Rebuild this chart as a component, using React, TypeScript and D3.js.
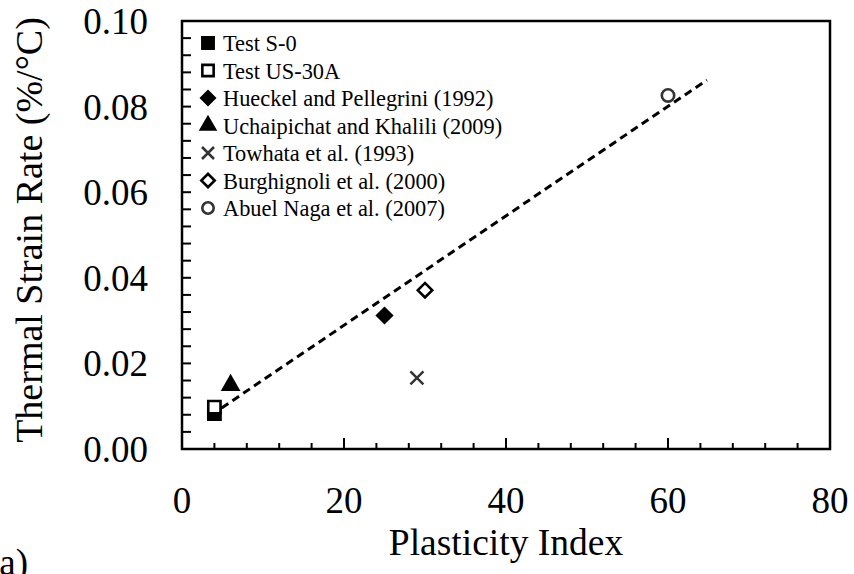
import React from "react";
import * as d3 from "d3";

const seriesNames = [
  "Test S-0",
  "Test US-30A",
  "Hueckel and Pellegrini (1992)",
  "Uchaipichat and Khalili (2009)",
  "Towhata et al. (1993)",
  "Burghignoli et al. (2000)",
  "Abuel Naga et al. (2007)",
];
const seriesMarkers = ["squareFilled", "squareOpen", "diamondFilled", "triangle", "cross", "diamondOpen", "circleOpen"];
const seriesX = [4, 4, 25, 6, 29, 30, 60];
const seriesY = [0.0083, 0.0098, 0.0312, 0.0149, 0.0166, 0.0371, 0.0826];

const trendX = [4.9, 64.8];
const trendY = [0.0096, 0.0862];

const xTicks = [0, 20, 40, 60, 80];
const yTicks = [0.0, 0.02, 0.04, 0.06, 0.08, 0.1];
const xMinorStep = 4;
const yMinorStep = 0.004;

const W = 854, H = 574;
const left = 182, right = 830, top = 21, bottom = 449;
const FONT = "Liberation Serif, Times New Roman, serif";

function markerPath(type: string, scale = 1): string {
  if (type.startsWith("square")) return d3.symbol(d3.symbolSquare, 150 * scale)()!;
  if (type.startsWith("diamond")) return d3.symbol(d3.symbolSquare, 105 * scale)()!;
  if (type === "triangle") return d3.symbol(d3.symbolTriangle, 100 * scale)()!;
  if (type.startsWith("circle")) return d3.symbol(d3.symbolCircle, 120 * scale)()!;
  const p = d3.path();
  const r = 6.5 * Math.sqrt(scale);
  p.moveTo(-r, -r); p.lineTo(r, r); p.moveTo(-r, r); p.lineTo(r, -r);
  return p.toString();
}

function Marker({ type, x, y, scale = 1 }: { type: string; x: number; y: number; scale?: number }) {
  const d = markerPath(type, scale);
  const rot = type.startsWith("diamond") ? 45 : 0;
  const filled = type === "squareFilled" || type === "diamondFilled" || type === "triangle";
  const isGray = type === "cross" || type === "circleOpen";
  return (
    <path
      d={d}
      transform={`translate(${x},${y}) rotate(${rot})`}
      fill={filled ? "#000" : type === "cross" ? "none" : "#fff"}
      stroke={isGray ? "#333" : "#000"}
      strokeWidth={type === "cross" ? 2.5 : 2.6}
      strokeLinejoin="miter"
    />
  );
}

export default function App() {
  const x = d3.scaleLinear().domain([0, 80]).range([left, right]);
  const y = d3.scaleLinear().domain([0, 0.1]).range([bottom, top]);
  const xMinor = d3.range(0, 80 + 0.001, xMinorStep);
  const yMinor = d3.range(0, 0.1 + 1e-9, yMinorStep);
  const line = d3.line<number>().x((_, i) => x(trendX[i])).y((_, i) => y(trendY[i]));
  const legendX = 208;
  const legendY0 = 43;
  const legendDy = 27.5;
  const txt = { fontFamily: FONT, fill: "#000" } as const;

  return (
    <svg width={W} height={H} style={{ position: "absolute", left: 0, top: 0, background: "#fff" }}>
      <rect x={0} y={0} width={W} height={H} fill="#fff" />
      {xMinor.map((v) => {
        const major = xTicks.some((t) => Math.abs(t - v) < 1e-6);
        return (
          <line key={"xm" + v} x1={x(v)} x2={x(v)} y1={bottom} y2={bottom - (major ? 11 : 6)} stroke="#000" strokeWidth={2} />
        );
      })}
      {yMinor.map((v) => (
        <line key={"ym" + v} x1={left} x2={left + 9} y1={y(v)} y2={y(v)} stroke="#000" strokeWidth={2} />
      ))}
      <rect x={left} y={top} width={right - left} height={bottom - top} fill="none" stroke="#000" strokeWidth={2.5} />
      {xTicks.map((t) => (
        <text key={"xt" + t} x={x(t)} y={bottom + 64} fontSize={37} textAnchor="middle" style={txt}>
          {t}
        </text>
      ))}
      {yTicks.map((t) => (
        <text key={"yt" + t} x={148} y={y(t) + 13} fontSize={37} textAnchor="end" style={txt}>
          {t.toFixed(2)}
        </text>
      ))}
      <text x={x(40)} y={555} fontSize={37.5} textAnchor="middle" style={txt}>
        Plasticity Index
      </text>
      <text transform={`translate(42,230) rotate(-90)`} fontSize={38} textAnchor="middle" style={txt}>
        Thermal Strain Rate (%/°C)
      </text>
      <text x={-13} y={575} fontSize={37} style={txt}>(a)</text>
      <path d={line([0, 1])!} fill="none" stroke="#000" strokeWidth={3} strokeDasharray="8,5" />
      {seriesX.map((v, i) => (
        <Marker key={"p" + i} type={seriesMarkers[i]} x={x(v)} y={y(seriesY[i])} />
      ))}
      {seriesNames.map((n, i) => (
        <g key={"lg" + i}>
          <Marker type={seriesMarkers[i]} x={legendX} y={legendY0 + i * legendDy} scale={0.85} />
          <text x={223} y={legendY0 + i * legendDy + 8} fontSize={22.4} style={txt}>
            {n}
          </text>
        </g>
      ))}
    </svg>
  );
}
